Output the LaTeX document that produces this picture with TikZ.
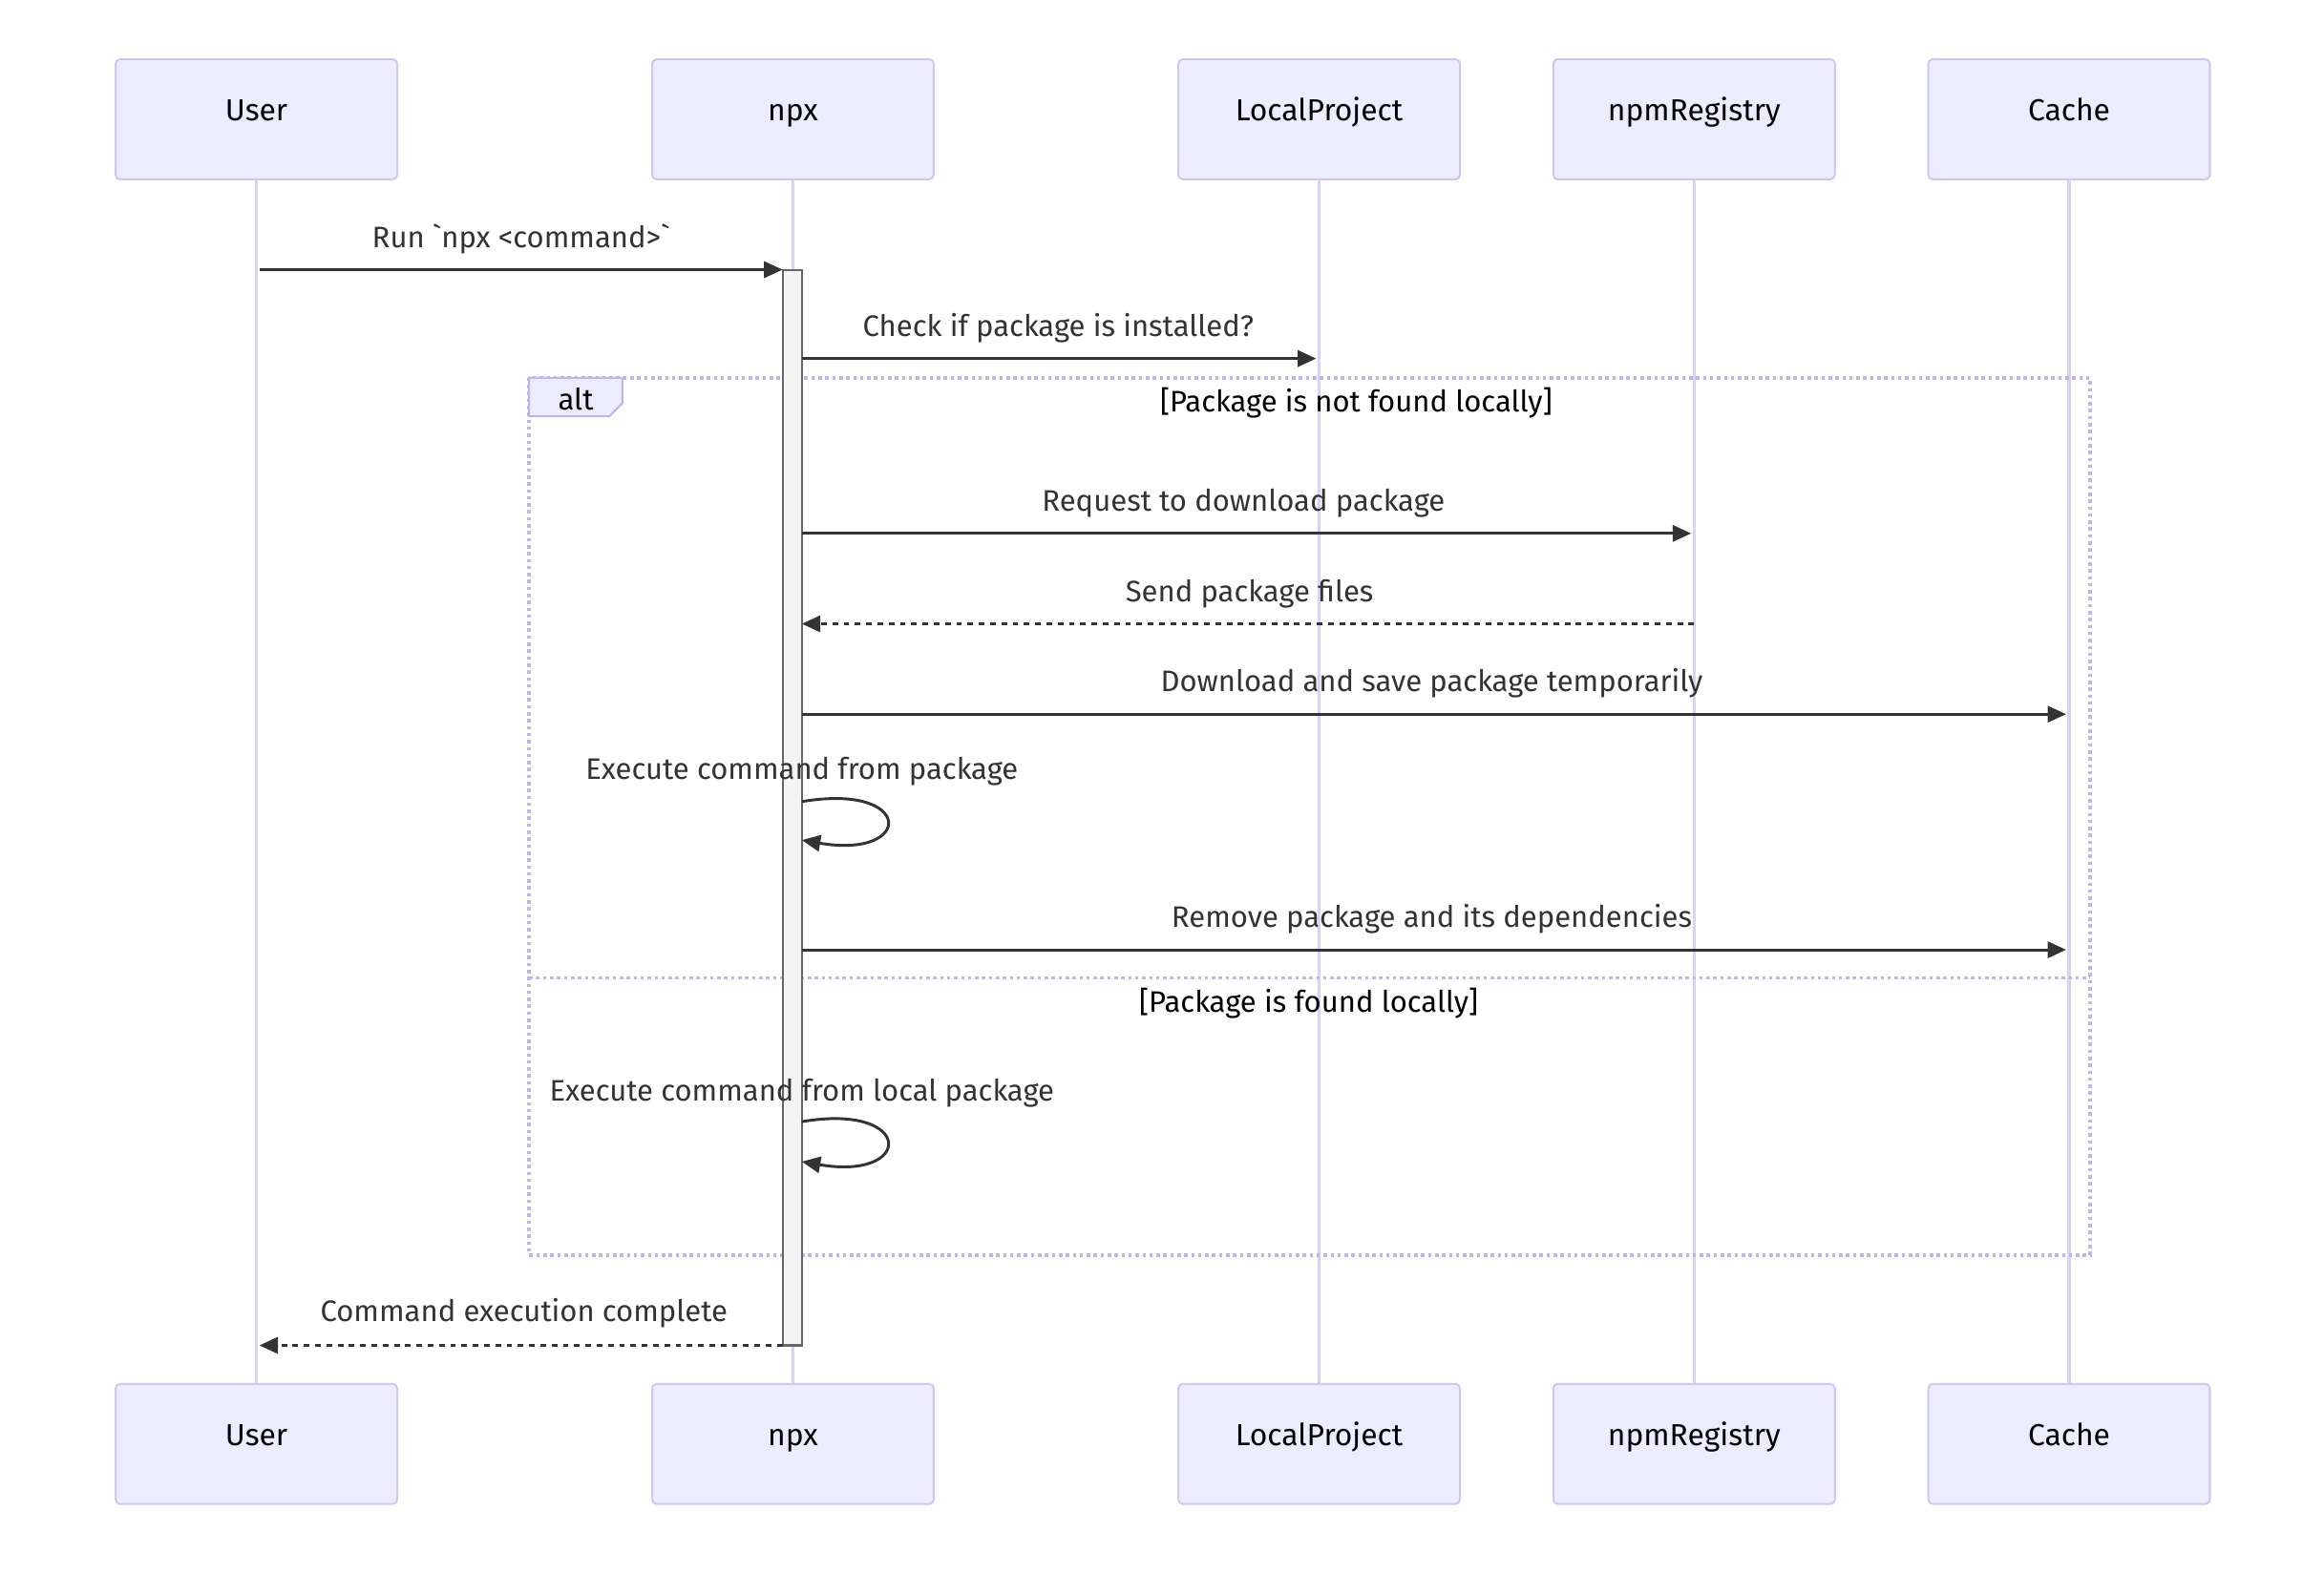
\documentclass[tikz,border=0pt]{standalone}
\usepackage{fontspec}
\setmainfont{Fira Sans}[Ligatures=TeXOff]
\usetikzlibrary{arrows.meta}
\definecolor{actfill}{HTML}{ECECFF}
\definecolor{actline}{HTML}{CFC7F2}
\definecolor{life}{HTML}{D9D2F2}
\definecolor{altline}{HTML}{BFB5EE}
\definecolor{msg}{HTML}{333333}
\definecolor{actvfill}{HTML}{F4F4F4}
\definecolor{actvline}{HTML}{666666}
\begin{document}
\begin{tikzpicture}[x=1pt,y=-1pt,
  actor/.style={draw=actline, fill=actfill, line width=1.3pt, rounded corners=3pt,
    minimum width=190pt, minimum height=81pt, inner sep=0pt,
    text height=14pt, text depth=12pt, font=\fontsize{20.5}{23}\selectfont, text=black},
  lifeline/.style={draw=life, line width=2pt},
  msgline/.style={draw=msg, line width=1.9pt, -{Triangle[length=12.5pt,width=11pt]}},
  reply/.style={msgline, dash pattern=on 3.8pt off 3.8pt},
  lbl/.style={font=\fontsize{20}{22}\selectfont, text=msg, inner sep=0pt, anchor=base},
  sect/.style={font=\fontsize{20}{22}\selectfont, text=black, inner sep=0pt, anchor=base},
  altbox/.style={draw=altline, line width=2.3pt, dash pattern=on 2.3pt off 2.4pt},
  activation/.style={draw=actvline, fill=actvfill, line width=1.3pt, minimum width=13pt,
    inner sep=0pt}
]
\useasboundingbox (0,0) rectangle (1568,1062);
\fill[white] (0,0) rectangle (1568,1062);

% actors top
\node[actor] (uT) at (173,80.5) {User};
\node[actor] (nT) at (535,80.5) {npx};
\node[actor] (lT) at (890,80.5) {LocalProject};
\node[actor] (rT) at (1143,80.5) {npmRegistry};
\node[actor] (cT) at (1396,80.5) {Cache};
% actors bottom
\node[actor] (uB) at (173,974.5) {User};
\node[actor] (nB) at (535,974.5) {npx};
\node[actor] (lB) at (890,974.5) {LocalProject};
\node[actor] (rB) at (1143,974.5) {npmRegistry};
\node[actor] (cB) at (1396,974.5) {Cache};

% lifelines
\draw[lifeline] (uT.south) -- (uB.north);
\draw[lifeline] (nT.south) -- (nB.north);
\draw[lifeline] (lT.south) -- (lB.north);
\draw[lifeline] (rT.south) -- (rB.north);
\draw[lifeline] (cT.south) -- (cB.north);

% alt frame
\draw[altbox] (357,255) rectangle (1410,847);
\draw[altbox] (357,660) -- (1410,660);
\filldraw[fill=actfill, draw=altline, line width=1.3pt] (357,255) -- (420,255) -- (420,272) -- (411,281) -- (357,281) -- cycle;
\node[sect] (altlbl) at (388.5,277) {alt};
\node[sect] (sec1) at (915,278) {[Package is not found locally]};
\node[sect] (sec2) at (883,683) {[Package is found locally]};

% activation
\node[activation, minimum height=726pt] (act) at (534.5,545) {};

% coordinates on lifelines
\coordinate (m1s) at (175,182);
\coordinate (m1e) at (528,182);
\coordinate (m2s) at (541,242);
\coordinate (m2e) at (888,242);
\coordinate (m3s) at (541,360);
\coordinate (m3e) at (1141,360);
\coordinate (m4s) at (1143,421);
\coordinate (m4e) at (541,421);
\coordinate (m5s) at (541,482);
\coordinate (m5e) at (1394,482);
\coordinate (s1s) at (541,541);
\coordinate (s1e) at (541,567);
\coordinate (m6s) at (541,641);
\coordinate (m6e) at (1394,641);
\coordinate (s2s) at (541,757);
\coordinate (s2e) at (541,784);
\coordinate (m7s) at (528,908);
\coordinate (m7e) at (175,908);

% messages
\draw[msgline] (m1s) -- (m1e);
\node[lbl] (t1) at (351.5,167) {Run `npx <command>`};
\draw[msgline] (m2s) -- (m2e);
\node[lbl] (t2) at (714,227) {Check if package is installed?};
\draw[msgline] (m3s) -- (m3e);
\node[lbl] (t3) at (839,345) {Request to download package};
\draw[reply] (m4s) -- (m4e);
\node[lbl] (t4) at (843,406) {Send package files};
\draw[msgline] (m5s) -- (m5e);
\node[lbl] (t5) at (966,467) {Download and save package temporarily};
\draw[msgline] (s1s) .. controls (617,528) and (617,580) .. (s1e);
\node[lbl] (t6) at (541,526) {Execute command from package};
\draw[msgline] (m6s) -- (m6e);
\node[lbl] (t7) at (966,626) {Remove package and its dependencies};
\draw[msgline] (s2s) .. controls (617,744) and (617,797) .. (s2e);
\node[lbl] (t8) at (541,743) {Execute command from local package};
\draw[reply] (m7s) -- (m7e);
\node[lbl] (t9) at (353.5,892) {Command execution complete};
\end{tikzpicture}
\end{document}
